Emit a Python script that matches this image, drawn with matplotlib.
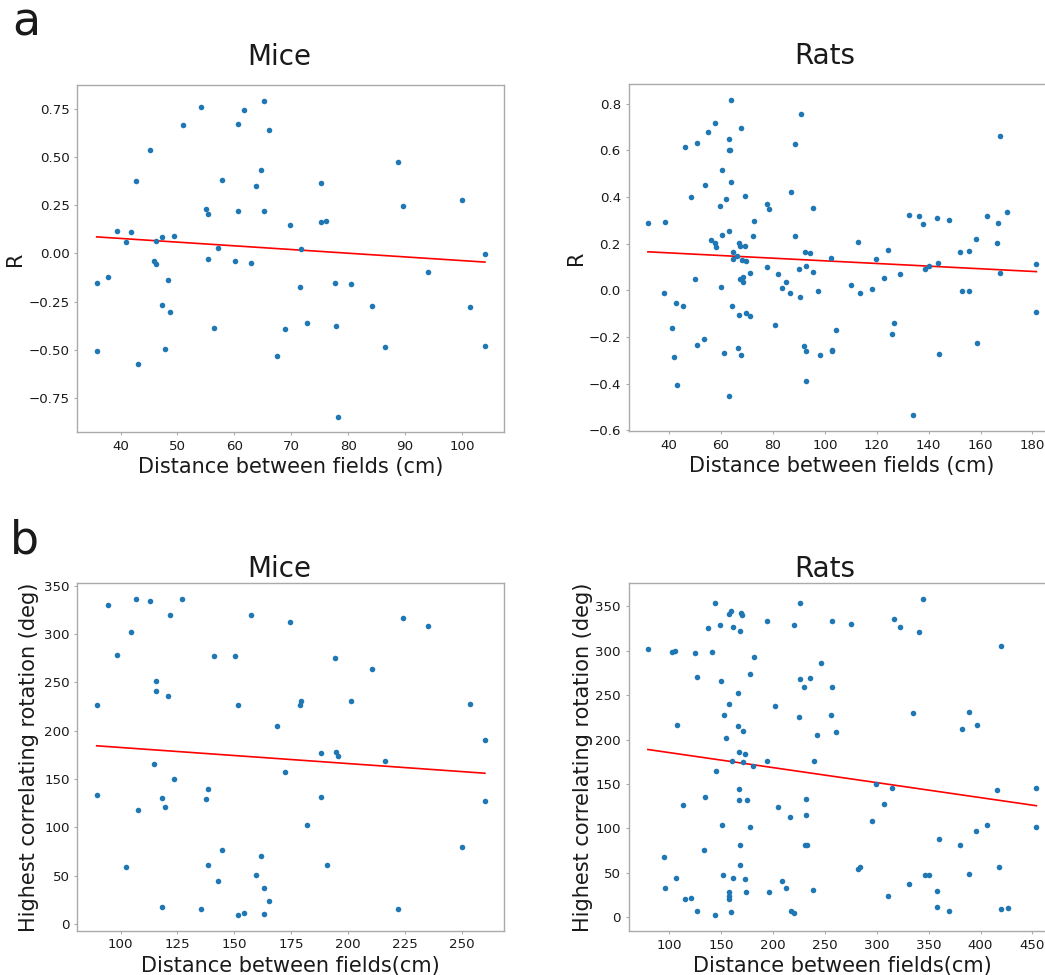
import matplotlib.pyplot as plt
import numpy as np

# mice: distance between field pairs vs. correlation R
mice_dist_r = [35.8, 35.8, 37.8, 39.4, 41.0, 41.9, 42.75, 43.0, 45.2, 45.85,
               46.2, 46.2, 47.26, 47.26, 47.8, 48.3, 48.7, 49.4, 50.9, 54.1,
               55.04, 55.28, 55.45, 56.4, 57.2, 57.74, 60.14, 60.66, 60.72, 61.66,
               62.89, 63.88, 64.7, 65.17, 65.17, 66.17, 67.51, 68.92, 69.85, 71.61,
               71.73, 72.72, 75.18, 75.18, 76.18, 77.64, 77.82, 78.23, 80.45, 84.2,
               86.48, 88.76, 89.7, 94.03, 99.94, 101.35, 104.04, 104.04]
mice_r = [-0.151, -0.505, -0.120, 0.118, 0.057, 0.111, 0.378, -0.576, 0.538, -0.037,
          -0.054, 0.064, 0.087, -0.270, -0.498, -0.139, -0.303, 0.089, 0.668, 0.762,
          0.230, 0.207, -0.028, -0.385, 0.030, 0.383, -0.037, 0.673, 0.221, 0.746,
          -0.052, 0.348, 0.435, 0.793, 0.221, 0.642, -0.531, -0.390, 0.150, -0.176,
          0.021, -0.360, 0.367, 0.165, 0.171, -0.153, -0.376, -0.847, -0.157, -0.271,
          -0.485, 0.473, 0.247, -0.094, 0.280, -0.277, -0.005, -0.480]

# rats: distance between field pairs vs. correlation R
rat_dist_r = [31.8, 38.5, 38.1, 41.0, 42.0, 42.7, 43.0, 45.4, 46.1, 48.4,
              49.9, 50.8, 50.8, 53.4, 53.8, 55.1, 56.3, 57.7, 57.7, 58.0,
              59.4, 59.9, 60.4, 60.4, 61.0, 62.0, 62.9, 63.0, 63.0, 63.3,
              62.9, 63.8, 64.0, 64.2, 64.4, 64.4, 66.3, 66.4, 66.8, 67.0,
              67.1, 67.2, 67.5, 67.7, 68.2, 68.4, 68.4, 69.1, 69.4, 69.5,
              69.7, 71.0, 71.0, 72.3, 72.6, 77.5, 77.8, 78.5, 80.9, 82.1,
              83.5, 84.9, 86.7, 86.8, 88.3, 88.3, 90.0, 90.4, 90.6, 92.1,
              92.3, 92.8, 92.8, 92.9, 94.3, 95.6, 95.6, 97.2, 98.3, 102.3,
              102.8, 102.8, 104.4, 110.0, 112.8, 113.4, 118.2, 119.7, 122.6, 124.3,
              125.8, 126.7, 129.1, 132.4, 133.9, 136.2, 138.0, 138.6, 140.2, 143.3,
              143.4, 144.0, 148.0, 152.1, 153.0, 155.5, 155.5, 158.4, 158.8, 162.6,
              166.2, 166.9, 167.5, 167.5, 170.3, 181.5, 181.5]
rat_r = [0.290, 0.294, -0.011, -0.161, -0.284, -0.056, -0.405, -0.066, 0.614, 0.400,
         0.047, 0.633, -0.234, -0.208, 0.449, 0.676, 0.217, 0.717, 0.202, 0.186,
         0.363, 0.013, 0.516, 0.238, -0.267, 0.389, 0.647, 0.252, 0.602, 0.601,
         -0.452, 0.816, 0.462, -0.067, 0.166, 0.136, 0.148, -0.248, -0.106, 0.201,
         0.189, 0.049, -0.277, 0.693, 0.129, 0.055, 0.037, 0.191, 0.406, -0.099,
         0.125, -0.108, 0.076, 0.234, 0.296, 0.370, 0.098, 0.350, -0.148, 0.070,
         0.009, 0.034, -0.010, 0.423, 0.628, 0.231, 0.090, -0.027, 0.753, -0.237,
         0.164, -0.258, 0.106, -0.390, 0.158, 0.353, 0.080, -0.001, -0.277, 0.138,
         -0.254, -0.260, -0.168, 0.023, 0.208, -0.011, 0.007, 0.132, 0.053, 0.174,
         -0.189, -0.139, 0.070, 0.324, -0.535, 0.318, 0.283, 0.092, 0.106, 0.311,
         0.118, -0.271, 0.303, 0.162, -0.001, 0.169, -0.003, 0.221, -0.224, 0.318,
         0.201, 0.290, 0.660, 0.076, 0.337, 0.113, -0.093]

# mice: distance vs. rotation giving the highest correlation
mice_dist_rot = [89.5, 89.5, 94.6, 98.5, 102.5, 104.7, 106.9, 107.6, 113.0, 114.6,
                 115.5, 115.5, 118.2, 118.2, 119.5, 120.8, 121.8, 123.6, 127.2, 135.3,
                 137.6, 138.2, 138.6, 141.0, 143.0, 144.4, 150.4, 151.7, 151.8, 154.2,
                 157.2, 159.7, 161.8, 162.9, 162.9, 165.4, 168.8, 172.3, 174.6, 179.0,
                 179.3, 181.8, 188.0, 188.0, 190.5, 194.1, 194.6, 195.6, 201.1, 210.5,
                 216.2, 221.9, 224.3, 235.1, 249.9, 253.4, 260.1, 260.1]
mice_rot = [226.4, 133.9, 330.3, 278.2, 59.0, 302.4, 336.2, 117.4, 334.5, 165.0,
            251.3, 240.9, 130.1, 17.3, 120.8, 236.4, 319.3, 150.2, 336.2, 15.2,
            129.4, 61.4, 140.1, 277.5, 44.2, 76.3, 277.5, 9.3, 226.4, 11.7,
            319.3, 51.1, 70.1, 36.9, 10.0, 23.8, 205.0, 157.4, 312.0, 226.4,
            230.9, 102.2, 177.1, 131.5, 61.4, 275.1, 178.1, 174.0, 230.9, 263.4,
            169.1, 15.2, 316.2, 308.6, 80.1, 227.8, 189.9, 127.0]

# rats: distance vs. rotation giving the highest correlation
rat_dist_rot = [79.5, 96.2, 95.1, 102.5, 105.2, 106.8, 107.7, 113.5, 115.1, 120.8,
                124.7, 127.0, 127.0, 133.4, 134.4, 137.5, 140.8, 144.3, 144.3, 144.9,
                148.5, 149.8, 151.1, 151.4, 152.6, 154.9, 157.2, 157.5, 157.5, 157.8,
                157.2, 159.4, 160.0, 160.7, 161.0, 161.0, 165.9, 166.2, 167.1, 167.4,
                167.4, 168.4, 168.7, 168.7, 169.3, 170.6, 170.9, 170.9, 173.2, 173.5,
                173.9, 174.5, 177.4, 177.4, 180.6, 181.5, 193.8, 194.7, 196.3, 202.1,
                205.3, 208.5, 212.1, 216.8, 217.1, 220.7, 220.7, 224.9, 225.8, 226.5,
                230.3, 230.7, 231.9, 231.9, 232.6, 235.8, 239.0, 239.3, 242.8, 245.8,
                255.7, 257.0, 257.0, 261.2, 275.0, 282.0, 283.6, 295.5, 299.4, 306.5,
                310.6, 314.5, 316.7, 322.8, 330.9, 334.7, 340.5, 344.9, 346.5, 350.4,
                358.2, 358.5, 360.1, 370.0, 380.3, 382.5, 388.9, 388.9, 396.0, 397.0,
                406.6, 415.9, 418.0, 419.5, 419.5, 426.6, 453.8, 453.8]
rat_rot = [302.2, 32.0, 67.7, 298.1, 300.0, 44.0, 216.0, 126.1, 19.6, 21.8,
           297.7, 270.6, 6.8, 75.6, 135.1, 325.6, 299.2, 354.2, 1.9, 164.1,
           329.3, 266.5, 103.9, 47.0, 228.1, 201.4, 240.1, 341.0, 28.2, 24.1,
           19.9, 6.0, 344.8, 175.4, 327.4, 44.0, 252.5, 214.9, 185.9, 144.1,
           131.4, 322.5, 80.9, 58.3, 342.5, 340.6, 209.3, 174.3, 183.3, 42.9,
           28.6, 131.4, 274.4, 101.2, 170.1, 293.2, 333.1, 175.4, 28.2, 238.2,
           123.8, 40.3, 32.0, 112.9, 6.8, 329.3, 4.9, 225.1, 268.3, 354.2,
           259.3, 80.5, 132.9, 114.8, 80.5, 269.1, 30.1, 175.8, 205.5, 286.4,
           227.3, 333.1, 259.3, 208.1, 330.4, 54.2, 55.7, 108.0, 149.4, 127.2,
           23.0, 145.7, 335.7, 326.7, 36.9, 230.3, 321.4, 358.3, 47.0, 47.0,
           10.9, 29.0, 88.1, 6.8, 80.9, 212.3, 231.5, 47.8, 97.1, 216.0,
           103.9, 143.0, 56.8, 305.6, 9.0, 10.5, 145.3, 101.6]

W, H = 1045, 975
fig = plt.figure(figsize=(W / 100, H / 100), dpi=100)

text_col = '#1a1a1a'
edge_col = '#aaaaaa'


def panel(rect, x, y, title, xlabel, ylabel, title_x, title_pad, ylab_x):
    left, top, w, h = rect
    ax = fig.add_axes([left / W, 1 - (top + h) / H, w / W, h / H])
    ax.scatter(x, y, s=16, color='#1f77b4', linewidths=0, zorder=3)
    # least squares fit over the range of the data
    slope, icpt = np.polyfit(x, y, 1)
    xs = np.array([min(x), max(x)])
    ax.plot(xs, slope * xs + icpt, color='red', lw=1.2, zorder=2)
    ax.set_title(title, fontsize=20, color=text_col, x=title_x, pad=title_pad)
    ax.set_xlabel(xlabel, fontsize=15, color=text_col, labelpad=3)
    ax.set_ylabel(ylabel, fontsize=15, color=text_col)
    ax.yaxis.set_label_coords(ylab_x, 0.5)
    for s in ax.spines.values():
        s.set_color(edge_col)
        s.set_linewidth(1.0)
    ax.tick_params(labelsize=9.6, labelcolor=text_col, color=edge_col,
                   length=2.5, pad=3)
    return ax


ax1 = panel((77.3, 85, 427, 347.3), mice_dist_r, mice_r, 'Mice',
            'Distance between fields (cm)', 'R', 0.472, 14.4, -0.1225)
ax1.set_yticks([-0.75, -0.5, -0.25, 0, 0.25, 0.5, 0.75])

ax2 = panel((628.5, 84, 427.3, 347), rat_dist_r, rat_r, 'Rats',
            'Distance between fields (cm)', 'R', 0.46, 14.4, -0.099)

ax3 = panel((77.3, 583.3, 427, 347.4), mice_dist_rot, mice_rot, 'Mice',
            'Distance between fields(cm)', 'Highest correlating rotation (deg)',
            0.472, 4.5, -0.0897)

ax4 = panel((628.5, 583.3, 427.3, 347.7), rat_dist_rot, rat_rot, 'Rats',
            'Distance between fields(cm)', 'Highest correlating rotation (deg)',
            0.46, 4.5, -0.084)

fig.text(12 / W, 1 - 36 / H, 'a', fontsize=33, color=text_col, va='baseline')
fig.text(10 / W, 1 - 553 / H, 'b', fontsize=33, color=text_col, va='baseline')

fig.savefig('out.png', dpi=100)
